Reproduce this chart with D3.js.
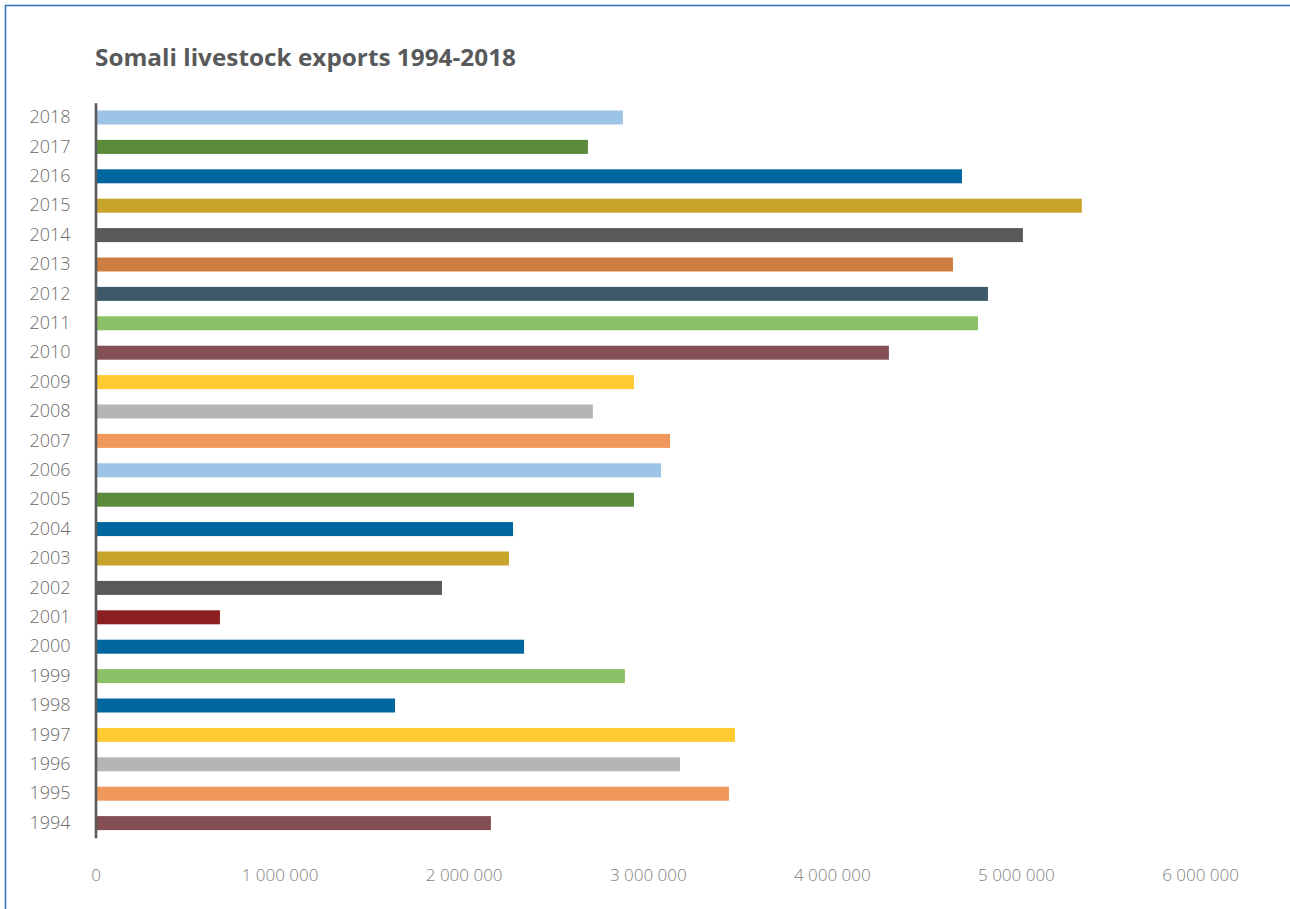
<!DOCTYPE html>
<html>
<head>
<meta charset="utf-8">
<script src="https://cdn.jsdelivr.net/npm/d3@7"></script>
<style>
  html, body { margin: 0; padding: 0; background: #ffffff; }
  svg { display: block; }
</style>
</head>
<body>
<svg id="chart" width="1290" height="909"></svg>
<script>
// Somali livestock exports (head of livestock), 1994-2018
const years = [1994, 1995, 1996, 1997, 1998, 1999, 2000, 2001, 2002, 2003, 2004, 2005,
               2006, 2007, 2008, 2009, 2010, 2011, 2012, 2013, 2014, 2015, 2016, 2017, 2018];
const exportsHead = [2148000, 3441000, 3175000, 3474000, 1627000, 2876000, 2328000, 676000,
                     1882000, 2246000, 2268000, 2925000, 3072000, 3121000, 2702000, 2925000,
                     4310000, 4794000, 4848000, 4658000, 5038000, 5358000, 4707000, 2675000, 2865000];
const barColors = ["#834f55", "#f0985b", "#b5b5b5", "#ffcb31", "#0066a0", "#8dc167", "#0066a0",
                   "#8b1f1f", "#58595b", "#c9a42b", "#0066a0", "#5b8a3b", "#9dc3e6", "#f0985b",
                   "#b5b5b5", "#ffcb31", "#845055", "#8dc167", "#3e5a6a", "#ce7d41", "#58595b",
                   "#c9a42b", "#0066a0", "#5b8a3b", "#9dc3e6"];
const xTicks = [0, 1000000, 2000000, 3000000, 4000000, 5000000, 6000000];
const title = "Somali livestock exports 1994-2018";

const rows = years.map((y, i) => ({ year: y, value: exportsHead[i], color: barColors[i] }));

const svg = d3.select("#chart");
const FONT = "'Open Sans', 'Noto Sans', sans-serif";

// Frame
svg.append("rect")
  .attr("x", 5.5).attr("y", 5.5)
  .attr("width", 1400).attr("height", 1000)
  .attr("fill", "none")
  .attr("stroke", "#2f79b8")
  .attr("stroke-width", 1.6);

// Title
svg.append("text")
  .attr("x", 95).attr("y", 66)
  .attr("font-family", FONT)
  .attr("font-weight", 700)
  .attr("font-size", 23)
  .attr("fill", "#58595b")
  .attr("textLength", 421)
  .attr("lengthAdjust", "spacingAndGlyphs")
  .text(title);

// Scales
const x = d3.scaleLinear().domain([0, 6000000]).range([95.5, 1200]);
const y = d3.scaleBand()
  .domain(years.slice().reverse())
  .range([102.8, 837.8])
  .paddingInner(0.524)
  .paddingOuter(0.262);

// Bars
svg.append("g")
  .selectAll("rect")
  .data(rows)
  .join("rect")
  .attr("x", x(0))
  .attr("y", d => y(d.year))
  .attr("width", d => x(d.value) - x(0))
  .attr("height", y.bandwidth())
  .attr("fill", d => d.color);

// Category axis
const yAxis = svg.append("g")
  .attr("transform", `translate(${x(0)},0)`)
  .call(d3.axisLeft(y).tickSize(0).tickPadding(25));
yAxis.select(".domain")
  .attr("stroke", "#5a5a5a")
  .attr("stroke-width", 2.6);
yAxis.selectAll("text")
  .attr("font-family", FONT)
  .attr("font-weight", 300)
  .attr("font-size", 18)
  .attr("fill", "#6b6b6b");

// Value axis (labels only)
const fmt = v => d3.format(",")(v).replace(/,/g, " ");
const xAxis = svg.append("g")
  .attr("transform", "translate(0,859)")
  .call(d3.axisBottom(x).tickValues(xTicks).tickSize(0).tickPadding(10).tickFormat(fmt));
xAxis.select(".domain").remove();
xAxis.selectAll("text")
  .attr("font-family", FONT)
  .attr("font-weight", 300)
  .attr("font-size", 17)
  .attr("fill", "#7d7d7d");
</script>
</body>
</html>
